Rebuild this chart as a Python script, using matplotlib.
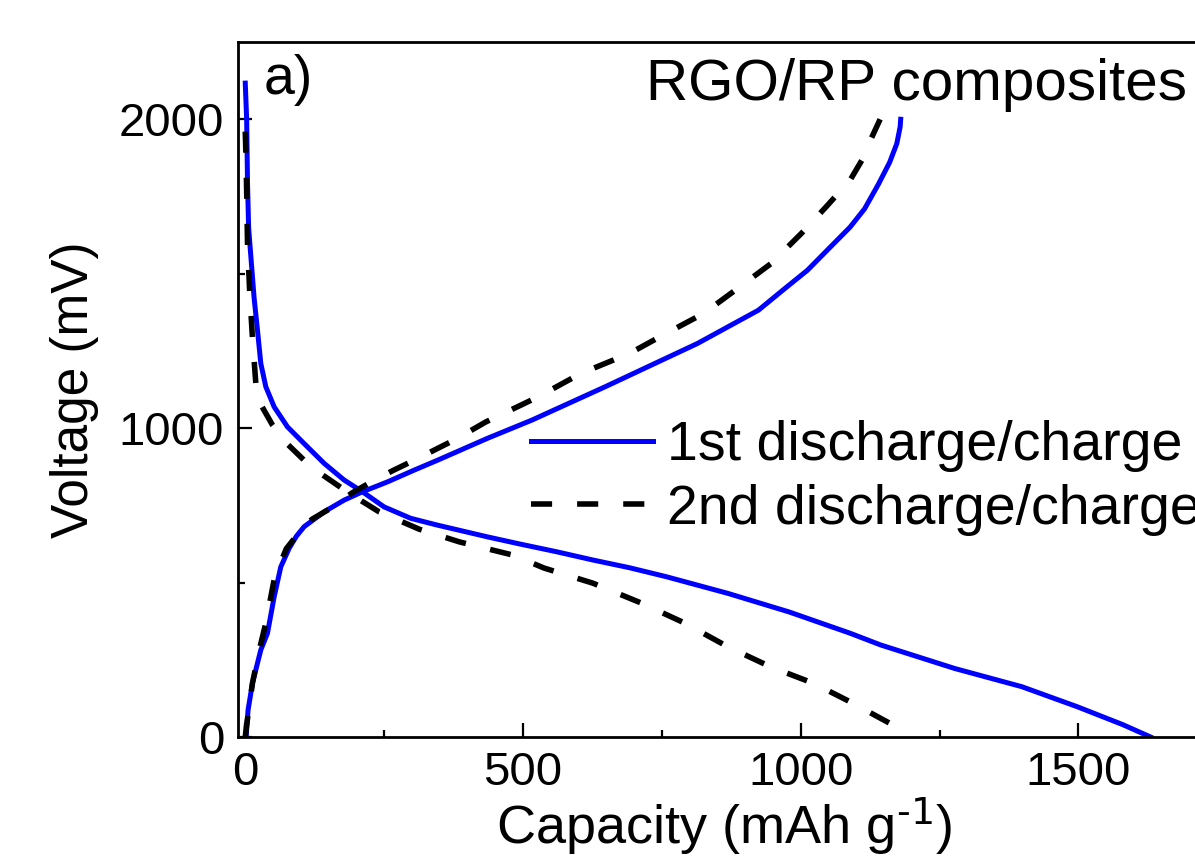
import matplotlib
matplotlib.use('Agg')
import matplotlib.pyplot as plt
from matplotlib.ticker import MultipleLocator

plt.rcParams['font.family'] = ['Liberation Sans', 'DejaVu Sans']
plt.rcParams['mathtext.default'] = 'regular'

# 1st cycle (blue, solid)
dis1_cap = [0, 2.5, 4, 6, 11, 16, 22, 28, 37, 52, 76, 106, 142, 178, 211, 250, 298, 346, 436, 494,
            560, 626, 692, 758, 869, 979, 1089, 1144, 1277, 1398, 1498, 1580, 1630]
dis1_volt = [2117, 2000, 1800, 1650, 1534, 1420, 1317, 1209, 1134, 1069, 1004, 950, 886, 832, 794,
             745, 708, 686, 648, 625, 600, 573, 548, 519, 465, 405, 336, 298, 222, 163, 98, 40, 0]
chg1_cap = [2, 5, 13, 28, 40, 52, 64, 79, 92, 106, 142, 178, 211, 256, 304, 346, 436, 516, 648, 814,
            869, 924, 968, 1012, 1051, 1089, 1115, 1140, 1160, 1173, 1179, 1180]
chg1_volt = [10, 87, 175, 282, 336, 454, 551, 611, 650, 681, 729, 767, 794, 826, 864, 896, 967, 1026,
             1134, 1274, 1328, 1382, 1447, 1511, 1582, 1651, 1710, 1790, 1860, 1921, 1975, 2000]

# 2nd cycle (black, dashed)
dis2_cap = [0, 1, 2.5, 4, 8, 13, 19, 30, 49, 75, 106, 138, 172, 206, 241, 313, 385, 482, 538, 626,
            714, 791, 869, 946, 1023, 1089, 1166, 1185]
dis2_volt = [1960, 1900, 1770, 1600, 1440, 1290, 1145, 1070, 1010, 950, 896, 850, 808, 768, 729, 673,
             632, 589, 547, 498, 433, 369, 292, 227, 174, 114, 39, 20]
chg2_cap = [0, 2, 13, 25, 37, 53, 74, 92, 120, 158, 192, 227, 265, 304, 379, 433, 527, 604, 692, 758,
            825, 890, 946, 1001, 1045, 1089, 1110, 1125, 1143]
chg2_volt = [0, 33, 175, 280, 369, 519, 610, 651, 705, 745, 790, 826, 862, 896, 964, 1020, 1101, 1177,
             1242, 1307, 1371, 1457, 1532, 1630, 1715, 1803, 1867, 1930, 2000]

labels = ['1st discharge/charge', '2nd discharge/charge']

fig = plt.figure(figsize=(11.95, 8.58), dpi=100)
ax = fig.add_axes([0.1992, 0.1410, 0.8134, 0.8100])

ax.plot(dis1_cap, dis1_volt, color='#0000ff', lw=3.6, label=labels[0])
ax.plot(chg1_cap, chg1_volt, color='#0000ff', lw=3.6)
ax.plot(dis2_cap, dis2_volt, color='k', lw=4, dashes=(3.8, 4.5), label=labels[1])
ax.plot(chg2_cap, chg2_volt, color='k', lw=4, dashes=(3.8, 4.5))

ax.set_xlim(-13, 1737)
ax.set_ylim(0, 2250)
ax.xaxis.set_major_locator(MultipleLocator(500))
ax.xaxis.set_minor_locator(MultipleLocator(250))
ax.yaxis.set_major_locator(MultipleLocator(1000))
ax.yaxis.set_minor_locator(MultipleLocator(500))
ax.tick_params(which='both', direction='in', width=1.6, labelsize=34)
ax.tick_params(which='major', length=10, pad=10)
ax.tick_params(which='minor', length=5)
for s in ax.spines.values():
    s.set_linewidth(2)

ax.set_xlabel(r'Capacity (mAh g$^{\text{-1}}$)', fontsize=39, labelpad=0)
ax.set_ylabel('Voltage (mV)', fontsize=37, labelpad=14)

fig.text(264 / 1195, (858 - 80) / 858, 'a)', fontsize=40, ha='left', va='center')
fig.text(1187 / 1195, (858 - 85) / 858, 'RGO/RP composites', fontsize=42, ha='right', va='center')

ax.legend(loc='center left', bbox_to_anchor=(531 / 1195, (858 - 478) / 858),
          bbox_transform=fig.transFigure, frameon=False, fontsize=40,
          borderpad=0, borderaxespad=0, labelspacing=0.2,
          handlelength=2.2, handletextpad=0.25)

fig.savefig('out.png', dpi=100)
